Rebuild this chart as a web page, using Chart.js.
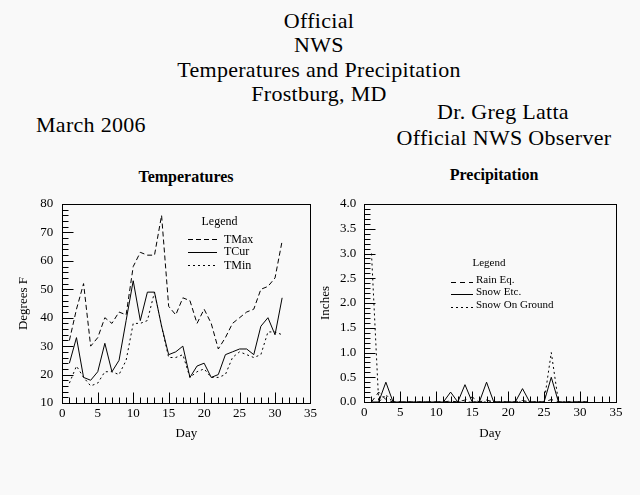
<!DOCTYPE html>
<html>
<head>
<meta charset="utf-8">
<script src="https://cdn.jsdelivr.net/npm/chart.js@4.4.1/dist/chart.umd.min.js"></script>
<style>
html, body { margin: 0; padding: 0; background: #f9f9f9; }
body { width: 640px; height: 495px; position: relative; overflow: hidden;
       font-family: "Liberation Serif", "Times New Roman", serif; color: #000; }
.t { position: absolute; white-space: nowrap; font-size: 22px; height: 24px; line-height: 24px; letter-spacing: 0.3px; }
.c { left: 0; width: 638px; text-align: center; }
.h { position: absolute; white-space: nowrap; font-size: 16px; font-weight: bold; height: 20px; line-height: 20px; text-align: center; width: 200px; }
canvas { position: absolute; top: 160px; }
</style>
</head>
<body>
<div class="t c" style="top:9px">Official</div>
<div class="t c" style="top:33px">NWS</div>
<div class="t c" style="top:58px">Temperatures and Precipitation</div>
<div class="t c" style="top:82px">Frostburg, MD</div>
<div class="t" style="top:113px;left:36px">March 2006</div>
<div class="t" style="top:100px;left:403px;width:200px;text-align:center">Dr. Greg Latta</div>
<div class="t" style="top:126px;left:393px;width:222px;text-align:center">Official NWS Observer</div>
<div class="h" style="top:167px;left:86px">Temperatures</div>
<div class="h" style="top:165px;left:394px">Precipitation</div>

<canvas id="temps" width="320" height="290" style="left:0px"></canvas>
<canvas id="precip" width="328" height="290" style="left:312px"></canvas>

<script>
var days = [1, 2, 3, 4, 5, 6, 7, 8, 9, 10, 11, 12, 13, 14, 15, 16,
            17, 18, 19, 20, 21, 22, 23, 24, 25, 26, 27, 28, 29, 30, 31];

var tMax = [32, 43, 52, 30, 33, 40, 38, 42, 41, 58, 63, 62, 62, 76, 44, 41,
            47, 46, 38, 43, 38, 29, 33, 38, 40, 42, 43, 50, 51, 54, 67];
var tCur = [24, 33, 19, 18, 21, 31, 21, 25, 39, 53, 39, 49, 49, 37, 27, 28,
            30, 19, 23, 24, 19, 20, 27, 28, 29, 29, 27, 37, 40, 34, 47];
var tMin = [17, 23, 19, 16, 17, 21, 21, 20, 25, 38, 38, 39, 49, 37, 26, 26,
            27, 19, 21, 22, 19, 19, 20, 26, 28, 27, 26, 27, 35, 35, 34];

var rainEq     = [0, 0.2, 0.05, 0, 0, 0, 0, 0, 0, 0, 0, 0.02, 0, 0.04, 0.1, 0,
                  0.04, 0, 0, 0, 0, 0.03, 0, 0, 0, 0.05, 0, 0, 0, 0, 0];
var snowEtc    = [0, 0, 0.4, 0, 0, 0, 0, 0, 0, 0, 0, 0.2, 0, 0.35, 0, 0,
                  0.4, 0, 0, 0, 0, 0.27, 0, 0, 0, 0.5, 0, 0, 0, 0, 0];
var snowGround = [3.0, 0, 0.15, 0, 0, 0, 0, 0, 0, 0, 0, 0, 0, 0, 0, 0,
                  0, 0, 0, 0, 0, 0, 0, 0, 0, 1.0, 0, 0, 0, 0, 0];

var dayTicks = [0, 5, 10, 15, 20, 25, 30, 35];
var tempTicks = [10, 20, 30, 40, 50, 60, 70, 80];
var precipTicks = [0, 0.5, 1, 1.5, 2, 2.5, 3, 3.5, 4];

var FONT = '"Liberation Serif", "Times New Roman", serif';
Chart.defaults.font.family = FONT;
Chart.defaults.color = '#000';

function pts(ys) {
    return days.map(function (d, i) { return { x: d, y: ys[i] }; });
}

function line(label, ys, dash) {
    return {
        label: label, data: pts(ys), borderColor: '#000', borderWidth: 1,
        borderDash: dash, pointRadius: 0, fill: false, tension: 0
    };
}

// box round the plot with ticks on the inside
var frameTicks = {
    id: 'frameTicks',
    afterDatasetsDraw: function (chart, args, o) {
        var ctx = chart.ctx, ca = chart.chartArea;
        var xs = chart.scales.x, ys = chart.scales.y;
        ctx.save();
        ctx.setLineDash([]);
        ctx.strokeStyle = '#000';
        ctx.lineWidth = 1;
        ctx.strokeRect(Math.round(ca.left) + 0.5, Math.round(ca.top) + 0.5,
                       Math.round(ca.right - ca.left), Math.round(ca.bottom - ca.top));
        var bottom = Math.round(ca.bottom) + 0.5, left = Math.round(ca.left) + 0.5;
        ctx.beginPath();
        var n = Math.round((xs.max - xs.min) / o.xMinor), i, v, p, len;
        for (i = 1; i < n; i++) {
            v = xs.min + i * o.xMinor;
            len = Math.abs(v / o.xMajor - Math.round(v / o.xMajor)) < 1e-6 ? o.majorLen : o.minorLen;
            p = Math.round(xs.getPixelForValue(v)) + 0.5;
            ctx.moveTo(p, bottom);
            ctx.lineTo(p, bottom - len);
        }
        n = Math.round((ys.max - ys.min) / o.yMinor);
        for (i = 1; i < n; i++) {
            v = ys.min + i * o.yMinor;
            len = Math.abs(v / o.yMajor - Math.round(v / o.yMajor)) < 1e-6 ? o.majorLen : o.minorLen;
            p = Math.round(ys.getPixelForValue(v)) + 0.5;
            ctx.moveTo(left, p);
            ctx.lineTo(left + len, p);
        }
        ctx.stroke();
        ctx.restore();
    }
};

// little "Legend" block drawn inside the plot
var boxLegend = {
    id: 'boxLegend',
    afterDraw: function (chart, args, o) {
        var ctx = chart.ctx;
        ctx.save();
        ctx.fillStyle = '#000';
        ctx.strokeStyle = '#000';
        ctx.lineWidth = 1;
        ctx.font = o.size + 'px ' + FONT;
        ctx.textAlign = 'center';
        ctx.textBaseline = 'middle';
        ctx.fillText('Legend', o.titleX, o.titleY);
        ctx.textAlign = 'left';
        chart.data.datasets.forEach(function (ds, i) {
            var r = o.rows[i];
            ctx.setLineDash(ds.borderDash || []);
            ctx.beginPath();
            ctx.moveTo(o.x0, Math.round(r.line) + 0.5);
            ctx.lineTo(o.x1, Math.round(r.line) + 0.5);
            ctx.stroke();
            ctx.fillText(ds.label, o.textX, r.text);
        });
        ctx.restore();
    }
};

function scales(xWidth, yWidth, yMin, yMax, yTicks, yFmt, yTitle, yTitlePad, yPad, xHeight) {
    return {
        x: {
            type: 'linear', min: 0, max: 35,
            afterBuildTicks: function (s) { s.ticks = dayTicks.map(function (v) { return { value: v }; }); },
            afterFit: function (s) { s.height = xHeight; },
            grid: { display: false, drawTicks: false },
            border: { display: false },
            ticks: { padding: 3, font: { size: 13 }, maxRotation: 0, autoSkip: false },
            title: { display: true, text: 'Day', font: { size: 13 }, padding: { top: 0, bottom: 9 } }
        },
        y: {
            type: 'linear', min: yMin, max: yMax,
            afterBuildTicks: function (s) { s.ticks = yTicks.map(function (v) { return { value: v }; }); },
            afterFit: function (s) { s.width = yWidth; },
            grid: { display: false, drawTicks: false },
            border: { display: false },
            ticks: { padding: yPad, font: { size: 13 }, autoSkip: false, callback: yFmt },
            title: { display: true, text: yTitle, font: { size: 13 }, padding: { top: yTitlePad, bottom: 0 } }
        }
    };
}

new Chart(document.getElementById('temps').getContext('2d'), {
    type: 'line',
    data: {
        datasets: [
            line('TMax', tMax, [5, 3]),
            line('TCur', tCur, []),
            line('TMin', tMin, [2, 3])
        ]
    },
    options: {
        responsive: false, animation: false, devicePixelRatio: 1,
        layout: { padding: { top: 44, right: 6.7, bottom: 0, left: 0 } },
        scales: scales(0, 62.3, 10, 80, tempTicks,
                       function (v) { return String(v); }, 'Degrees F', 16, 9, 47),
        plugins: {
            legend: { display: false },
            tooltip: { enabled: false },
            frameTicks: { xMinor: 1, xMajor: 5, yMinor: 2, yMajor: 10, majorLen: 11, minorLen: 6 },
            boxLegend: {
                size: 12, titleX: 219.5, titleY: 62, x0: 188, x1: 217, textX: 224,
                rows: [{ line: 79, text: 79.5 }, { line: 92, text: 92 }, { line: 105, text: 105.5 }]
            }
        }
    },
    plugins: [frameTicks, boxLegend]
});

new Chart(document.getElementById('precip').getContext('2d'), {
    type: 'line',
    data: {
        datasets: [
            line('Rain Eq.', rainEq, [5, 4]),
            line('Snow Etc.', snowEtc, []),
            line('Snow On Ground', snowGround, [2, 3])
        ]
    },
    options: {
        responsive: false, animation: false, devicePixelRatio: 1,
        layout: { padding: { top: 44, right: 24, bottom: 0, left: 0 } },
        scales: scales(0, 52.3, 0, 4, precipTicks,
                       function (v) { return v.toFixed(1); }, 'Inches', 6, 8, 48),
        plugins: {
            legend: { display: false },
            tooltip: { enabled: false },
            frameTicks: { xMinor: 1, xMajor: 5, yMinor: 0.1, yMajor: 0.5, majorLen: 11, minorLen: 6 },
            boxLegend: {
                size: 11, titleX: 177, titleY: 103, x0: 139, x1: 161, textX: 164,
                rows: [{ line: 122, text: 120 }, { line: 134, text: 132 }, { line: 146.7, text: 145 }]
            }
        }
    },
    plugins: [frameTicks, boxLegend]
});
</script>
</body>
</html>
